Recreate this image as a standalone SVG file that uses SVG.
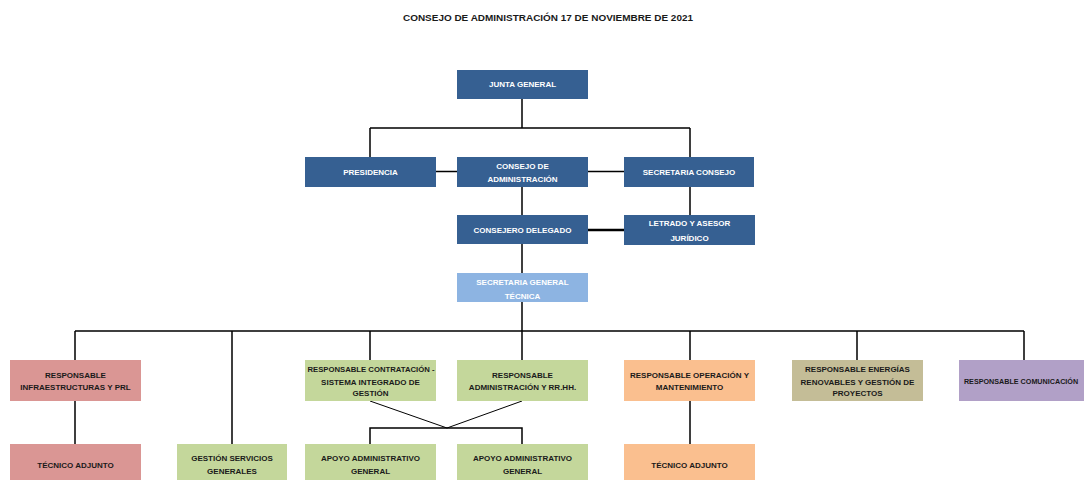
<svg xmlns="http://www.w3.org/2000/svg" width="1084" height="480" viewBox="0 0 1084 480">
<style>
text{font-family:"Liberation Sans",Arial,sans-serif;font-weight:bold;font-size:8px;text-anchor:middle}
.w{fill:#ffffff}
.d{fill:#1a1a1a}
.blue{fill:#366092}
.lblue{fill:#8DB4E2}
.red{fill:#DA9694}
.green{fill:#C4D79B}
.orange{fill:#FABF8F}
.olive{fill:#C4BD97}
.purple{fill:#B1A0C7}
.c{stroke:#000;stroke-width:1.5;fill:none}
.t{stroke:#000;stroke-width:1;fill:none}
</style>
<rect width="1084" height="480" fill="#fff"/>
<text x="548" y="21" class="d" style="font-size:9px" textLength="290" lengthAdjust="spacingAndGlyphs">CONSEJO DE ADMINISTRACIÓN 17 DE NOVIEMBRE DE 2021</text>
<g id="connectors">
<path class="c" d="M522 99V128M370 128H690M370 128V157M690 128V157M436 171.5H457M588 171.5H624M522 187V215M690 187V215M522 244V273M522 302V331M75 331H1024M75 331V360M232 331V444M370 331V360M522 331V360M690 331V360M857 331V360M1024 331V360M75 401V444M690 401V444M370 444V428H522V444"/>
<path class="c" style="stroke-width:2.5" d="M588 230H624"/>
<path class="t" d="M370 401L447 428L522 401"/>
</g>
<g id="junta"><rect class="blue" x="457" y="70" width="131" height="29"/><text class="w" x="522.5" y="87">JUNTA GENERAL</text></g>
<g id="presidencia"><rect class="blue" x="305" y="157" width="131" height="30"/><text class="w" x="370.5" y="174.5">PRESIDENCIA</text></g>
<g id="consejo"><rect class="blue" x="457" y="157" width="131" height="30"/><text class="w" x="522.5" y="169">CONSEJO DE</text><text class="w" x="522.5" y="182">ADMINISTRACIÓN</text></g>
<g id="secretaria-consejo"><rect class="blue" x="624" y="157" width="130" height="30"/><text class="w" x="689" y="174.5">SECRETARIA CONSEJO</text></g>
<g id="consejero"><rect class="blue" x="457" y="215" width="131" height="29"/><text class="w" x="522.5" y="233">CONSEJERO DELEGADO</text></g>
<g id="letrado"><rect class="blue" x="624" y="215" width="131" height="30"/><text class="w" x="689.5" y="226">LETRADO Y ASESOR</text><text class="w" x="689.5" y="241">JURÍDICO</text></g>
<g id="sgt"><rect class="lblue" x="457" y="273" width="131" height="29"/><text class="w" x="522.5" y="285">SECRETARIA GENERAL</text><text class="w" x="522.5" y="299">TÉCNICA</text></g>
<g id="infra"><rect class="red" x="10" y="360" width="131" height="41"/><text class="d" x="75.5" y="378">RESPONSABLE</text><text class="d" x="75.5" y="390">INFRAESTRUCTURAS Y PRL</text></g>
<g id="tecnico1"><rect class="red" x="10" y="444" width="131" height="36"/><text class="d" x="75.5" y="468">TÉCNICO ADJUNTO</text></g>
<g id="gestion-servicios"><rect class="green" x="177" y="444" width="110" height="36"/><text class="d" x="232" y="461">GESTIÓN SERVICIOS</text><text class="d" x="232" y="473.5">GENERALES</text></g>
<g id="contratacion"><rect class="green" x="305" y="360" width="131" height="41"/><text class="d" x="371" y="372" textLength="127" lengthAdjust="spacingAndGlyphs">RESPONSABLE CONTRATACIÓN -</text><text class="d" x="370.5" y="384.5">SISTEMA INTEGRADO DE</text><text class="d" x="370.5" y="396">GESTIÓN</text></g>
<g id="administracion"><rect class="green" x="457" y="360" width="131" height="41"/><text class="d" x="522.5" y="378">RESPONSABLE</text><text class="d" x="522.5" y="389.5">ADMINISTRACIÓN Y RR.HH.</text></g>
<g id="apoyo1"><rect class="green" x="305" y="444" width="131" height="36"/><text class="d" x="370.5" y="461">APOYO ADMINISTRATIVO</text><text class="d" x="370.5" y="473.5">GENERAL</text></g>
<g id="apoyo2"><rect class="green" x="457" y="444" width="131" height="36"/><text class="d" x="522.5" y="461">APOYO ADMINISTRATIVO</text><text class="d" x="522.5" y="473.5">GENERAL</text></g>
<g id="operacion"><rect class="orange" x="624" y="360" width="131" height="41"/><text class="d" x="689.5" y="378">RESPONSABLE OPERACIÓN Y</text><text class="d" x="689.5" y="389.5">MANTENIMIENTO</text></g>
<g id="tecnico2"><rect class="orange" x="624" y="444" width="131" height="36"/><text class="d" x="689.5" y="468">TÉCNICO ADJUNTO</text></g>
<g id="energias"><rect class="olive" x="792" y="360" width="131" height="41"/><text class="d" x="857.5" y="372">RESPONSABLE ENERGÍAS</text><text class="d" x="857.5" y="384.5">RENOVABLES Y GESTIÓN DE</text><text class="d" x="857.5" y="396">PROYECTOS</text></g>
<g id="comunicacion"><rect class="purple" x="959" y="360" width="125" height="41"/><text class="d" x="1021" y="383.5" style="font-size:7.2px">RESPONSABLE COMUNICACIÓN</text></g>
</svg>
